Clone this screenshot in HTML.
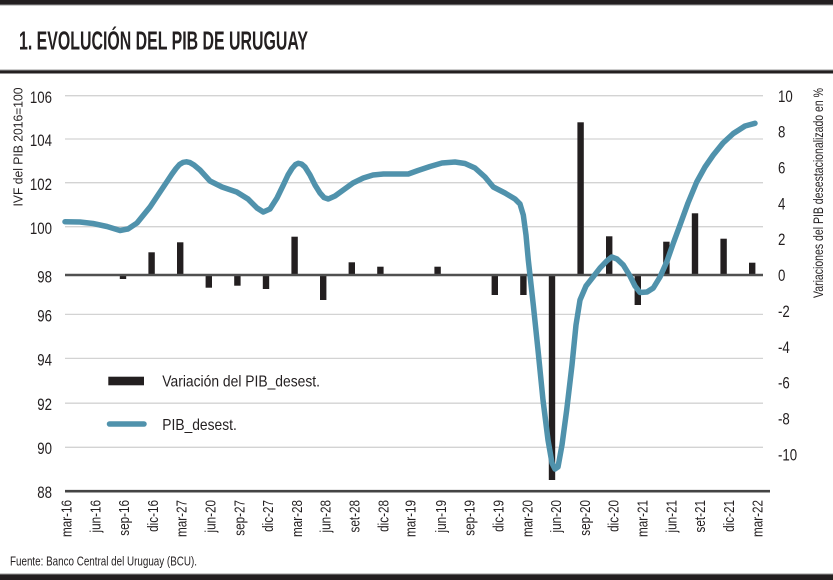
<!DOCTYPE html>
<html>
<head>
<meta charset="utf-8">
<style>
  html,body{margin:0;padding:0;background:#fff;}
  svg{display:block;}
  text{font-family:"Liberation Sans", Arial, sans-serif; fill:#231f20;}
</style>
</head>
<body>
<svg width="833" height="580" viewBox="0 0 833 580" xmlns="http://www.w3.org/2000/svg">
  <!-- top band -->
  <rect x="0" y="0" width="833" height="4.5" fill="#231f20"/>
  <rect x="0" y="4.5" width="833" height="1" fill="#9a9a9a"/>
  <!-- title -->
  <text x="19" y="49.5" font-size="26" font-weight="bold" textLength="289" lengthAdjust="spacingAndGlyphs">1. EVOLUCIÓN DEL PIB DE URUGUAY</text>
  <!-- separator -->
  <rect x="0" y="69.5" width="833" height="1" fill="#9a9a9a"/>
  <rect x="0" y="70.5" width="833" height="3" fill="#231f20"/>

  <!-- gridlines -->
  <g stroke="#d3d3d3" stroke-width="1.3">
    <line x1="65" y1="95.7" x2="763" y2="95.7"/>
    <line x1="65" y1="139" x2="763" y2="139"/>
    <line x1="65" y1="182.7" x2="763" y2="182.7"/>
    <line x1="65" y1="226.7" x2="763" y2="226.7"/>
    <line x1="65" y1="314.4" x2="763" y2="314.4"/>
    <line x1="65" y1="358.4" x2="763" y2="358.4"/>
    <line x1="65" y1="403.2" x2="763" y2="403.2"/>
    <line x1="65" y1="447.3" x2="763" y2="447.3"/>
  </g>

  <!-- bars -->
  <g fill="#231f20">
    <rect x="119.8" y="275" width="6.4" height="4"/>
    <rect x="148.4" y="252.3" width="6.4" height="22.7"/>
    <rect x="177.0" y="242.3" width="6.4" height="32.7"/>
    <rect x="205.6" y="275" width="6.4" height="12.7"/>
    <rect x="234.2" y="275" width="6.4" height="10.7"/>
    <rect x="262.8" y="275" width="6.4" height="14"/>
    <rect x="291.4" y="236.7" width="6.4" height="38.3"/>
    <rect x="320.0" y="275" width="6.4" height="25"/>
    <rect x="348.6" y="262.3" width="6.4" height="12.7"/>
    <rect x="377.2" y="266.7" width="6.4" height="8.3"/>
    <rect x="434.4" y="266.7" width="6.4" height="8.3"/>
    <rect x="491.6" y="275" width="6.4" height="20"/>
    <rect x="520.2" y="275" width="6.4" height="20"/>
    <rect x="548.8" y="275" width="6.4" height="205"/>
    <rect x="577.4" y="122.3" width="6.4" height="152.7"/>
    <rect x="606.0" y="236.3" width="6.4" height="38.7"/>
    <rect x="634.6" y="275" width="6.4" height="30"/>
    <rect x="663.2" y="241.7" width="6.4" height="33.3"/>
    <rect x="691.8" y="213.3" width="6.4" height="61.7"/>
    <rect x="720.4" y="238.7" width="6.4" height="36.3"/>
    <rect x="749.0" y="262.7" width="6.4" height="12.3"/>
  </g>

  <!-- zero line -->
  <line x1="65" y1="275" x2="763" y2="275" stroke="#505050" stroke-width="2.6"/>
  <!-- bottom axis -->
  <line x1="65" y1="491.2" x2="770" y2="491.2" stroke="#444" stroke-width="2.7"/>

  <!-- PIB line -->
  <polyline fill="none" stroke="#5092ac" stroke-width="5.5" stroke-linejoin="round" stroke-linecap="round"
    points="65,221.7 80,222 93,223.5 107,226.5 120,230.5 128,229 137,223 150,207 160,192 166.7,182 172,174 176,168.5 179.5,164.5 183.3,162.3 186.5,161.8 190,162.6 194,165 200,170 210,181 222,187 236.7,192 248,199 257,208 263.3,212 270,209 277,198 283.3,185 288,175 292,168.5 295.5,164.5 298.3,163.3 301.5,164 305,167 310,175 315,185 320,193 324,197.5 328.3,199 335,196 343.3,190 353,183 363.3,178 373,175 383.3,174 408.3,174 418,170.5 430,166.5 442,163 455,162 465,163.5 475,168 485,177 493.3,187 505,193 515,199 520,204 523.3,215 526,235 528.3,260 533.3,305 538,350 543,400 548,440 552,463 555,469 558,467 562,445 566.7,410 572,365 576,325 580,300 586,286 593.3,276.7 600,268 606.7,261 611.7,257 617,259 623.3,265 630,276 635,286 640,292.5 647,292 653.3,288 660,277 666.7,262 673,244 680,225 688,203 696.7,182 705,167 713.3,155 723,143 733.3,133.5 745,126 755,123.3"/>

  <!-- left axis labels -->
  <g transform="translate(52,0) scale(0.78,1)" font-size="17" text-anchor="end">
    <text x="0" y="103">106</text>
    <text x="0" y="146">104</text>
    <text x="0" y="190">102</text>
    <text x="0" y="234">100</text>
    <text x="0" y="282.5">98</text>
    <text x="0" y="321.5">96</text>
    <text x="0" y="365.5">94</text>
    <text x="0" y="410">92</text>
    <text x="0" y="454">90</text>
    <text x="0" y="498">88</text>
  </g>

  <!-- right axis labels -->
  <g transform="translate(778,0) scale(0.78,1)" font-size="17" text-anchor="start">
    <text x="0" y="101.8">10</text>
    <text x="0" y="137.6">8</text>
    <text x="0" y="173.5">6</text>
    <text x="0" y="209.4">4</text>
    <text x="0" y="245.2">2</text>
    <text x="0" y="281.1">0</text>
    <text x="0" y="316.9">-2</text>
    <text x="0" y="352.8">-4</text>
    <text x="0" y="388.6">-6</text>
    <text x="0" y="424.5">-8</text>
    <text x="0" y="460.3">-10</text>
  </g>

  <!-- axis titles -->
  <text transform="translate(22.5,147) rotate(-90)" font-size="13" text-anchor="middle" textLength="119" lengthAdjust="spacingAndGlyphs">IVF del PIB 2016=100</text>
  <text transform="translate(823,193) rotate(-90)" font-size="14" text-anchor="middle" textLength="210" lengthAdjust="spacingAndGlyphs">Variaciones del PIB desestacionalizado en %</text>

  <!-- x labels -->
  <g font-size="15" text-anchor="end">
    <text transform="translate(71.5,500) rotate(-90) scale(0.78,1)">mar-16</text>
    <text transform="translate(100.3,500) rotate(-90) scale(0.78,1)">jun-16</text>
    <text transform="translate(129.1,500) rotate(-90) scale(0.78,1)">sep-16</text>
    <text transform="translate(157.9,500) rotate(-90) scale(0.78,1)">dic-16</text>
    <text transform="translate(186.7,500) rotate(-90) scale(0.78,1)">mar-27</text>
    <text transform="translate(215.5,500) rotate(-90) scale(0.78,1)">jun-20</text>
    <text transform="translate(244.3,500) rotate(-90) scale(0.78,1)">sep-27</text>
    <text transform="translate(273.1,500) rotate(-90) scale(0.78,1)">dic-27</text>
    <text transform="translate(301.9,500) rotate(-90) scale(0.78,1)">mar-28</text>
    <text transform="translate(330.7,500) rotate(-90) scale(0.78,1)">jun-28</text>
    <text transform="translate(359.5,500) rotate(-90) scale(0.78,1)">set-28</text>
    <text transform="translate(388.3,500) rotate(-90) scale(0.78,1)">dic-28</text>
    <text transform="translate(415.5,500) rotate(-90) scale(0.78,1)">mar-19</text>
    <text transform="translate(445.9,500) rotate(-90) scale(0.78,1)">jun-19</text>
    <text transform="translate(474.7,500) rotate(-90) scale(0.78,1)">sep-19</text>
    <text transform="translate(503.5,500) rotate(-90) scale(0.78,1)">dic-19</text>
    <text transform="translate(532.3,500) rotate(-90) scale(0.78,1)">mar-20</text>
    <text transform="translate(561.1,500) rotate(-90) scale(0.78,1)">jun-20</text>
    <text transform="translate(589.9,500) rotate(-90) scale(0.78,1)">sep-20</text>
    <text transform="translate(618.7,500) rotate(-90) scale(0.78,1)">dic-20</text>
    <text transform="translate(647.5,500) rotate(-90) scale(0.78,1)">mar-21</text>
    <text transform="translate(676.3,500) rotate(-90) scale(0.78,1)">jun-21</text>
    <text transform="translate(705.1,500) rotate(-90) scale(0.78,1)">set-21</text>
    <text transform="translate(733.9,500) rotate(-90) scale(0.78,1)">dic-21</text>
    <text transform="translate(762.7,500) rotate(-90) scale(0.78,1)">mar-22</text>
  </g>

  <!-- legend -->
  <rect x="108.3" y="376.7" width="35.7" height="8.6" fill="#231f20"/>
  <text x="162.3" y="386.5" font-size="16" textLength="157.7" lengthAdjust="spacingAndGlyphs">Variación del PIB_desest.</text>
  <line x1="109.5" y1="424" x2="144" y2="424" stroke="#5092ac" stroke-width="5.5" stroke-linecap="round"/>
  <text x="162.3" y="430" font-size="16" textLength="74.5" lengthAdjust="spacingAndGlyphs">PIB_desest.</text>

  <!-- source -->
  <text x="10" y="565.5" font-size="12.5" textLength="187" lengthAdjust="spacingAndGlyphs">Fuente: Banco Central del Uruguay (BCU).</text>

  <!-- bottom band -->
  <rect x="0" y="573.5" width="833" height="1" fill="#9a9a9a"/>
  <rect x="0" y="574.5" width="833" height="5.5" fill="#231f20"/>
</svg>
</body>
</html>
